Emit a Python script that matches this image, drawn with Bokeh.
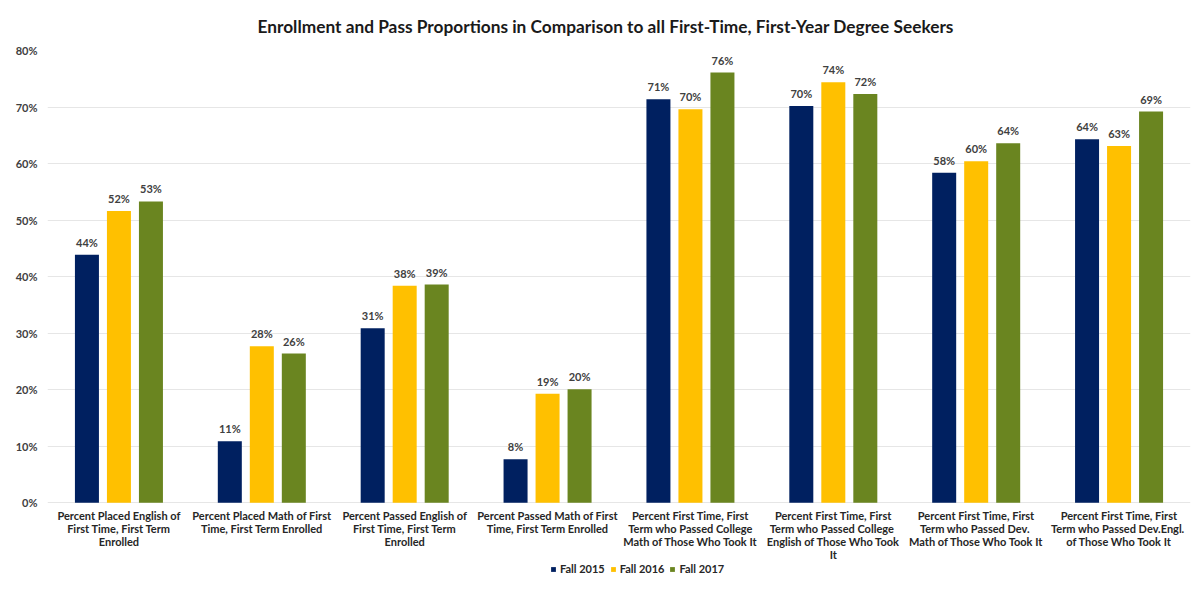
from bokeh.plotting import figure
from bokeh.models import (ColumnDataSource, FactorRange, Range1d, FixedTicker,
                          NumeralTickFormatter, LabelSet, Legend, LegendItem)
from bokeh.core.properties import value
from bokeh.transform import dodge
from bokeh.embed import file_html
from bokeh.resources import INLINE

# Category labels (line breaks as they wrap under each group)
categories = [
    "Percent Placed English of\nFirst Time, First Term\nEnrolled",
    "Percent Placed Math of First\nTime, First Term Enrolled",
    "Percent Passed English of\nFirst Time, First Term\nEnrolled",
    "Percent Passed Math of First\nTime, First Term Enrolled",
    "Percent First Time, First\nTerm who Passed College\nMath of Those Who Took It",
    "Percent First Time, First\nTerm  who Passed College\nEnglish of Those Who Took\nIt",
    "Percent First Time, First\nTerm  who Passed Dev.\nMath of Those Who Took It",
    "Percent First Time, First\nTerm  who Passed Dev.Engl.\nof Those Who Took It",
]

series_names = ["Fall 2015", "Fall 2016", "Fall 2017"]
fall_2015 = [0.439, 0.109, 0.309, 0.077, 0.714, 0.702, 0.584, 0.643]
fall_2016 = [0.516, 0.277, 0.384, 0.193, 0.696, 0.744, 0.604, 0.631]
fall_2017 = [0.533, 0.264, 0.386, 0.201, 0.761, 0.723, 0.636, 0.692]

y_ticks = [0.0, 0.1, 0.2, 0.3, 0.4, 0.5, 0.6, 0.7, 0.8]

colors = ["#002060", "#FFC000", "#6A8520"]
FONT = "Lato"
TEXT_COLOR = "#262626"
LINE_STEP = 13  # px between wrapped category label lines

data = dict(cat=categories, f2015=fall_2015, f2016=fall_2016, f2017=fall_2017)
for key, vals in (("f2015", fall_2015), ("f2016", fall_2016), ("f2017", fall_2017)):
    data[key + "_lbl"] = [f"{round(v * 100)}%" for v in vals]
source = ColumnDataSource(data)

# One row per wrapped line of each category label
cat_rows = dict(cat=[], line=[], yoff=[], y=[])
for c in categories:
    for i, ln in enumerate(c.split("\n")):
        cat_rows["cat"].append(c)
        cat_rows["line"].append(ln)
        cat_rows["yoff"].append(-(6 + i * LINE_STEP))
        cat_rows["y"].append(0.0)
cat_source = ColumnDataSource(cat_rows)

# The frame runs below 0% so the category captions sit under the bars
p = figure(
    x_range=FactorRange(*categories),
    y_range=Range1d(-0.155, 0.8),
    width=1199, height=594,
    output_backend="svg", toolbar_location=None,
    min_border_left=47, min_border_right=9,
    min_border_top=49, min_border_bottom=4,
    title="Enrollment and Pass Proportions in Comparison to all First-Time, First-Year Degree Seekers",
)

p.title.align = "left"
p.title.offset = 210
p.title.text_font = FONT
p.title.text_font_size = "17.3px"
p.title.text_font_style = "bold"
p.title.text_color = "#1a1a1a"
p.title.text_line_height = 1.0
p.title.standoff = 27

p.outline_line_color = None
p.background_fill_color = "white"
p.border_fill_color = "white"

offsets = [-0.224, 0.0, 0.224]
keys = ["f2015", "f2016", "f2017"]
bar_w = 0.168
renderers = []
for key, off, col in zip(keys, offsets, colors):
    r = p.vbar(x=dodge("cat", off, range=p.x_range), top=key, width=bar_w,
               source=source, fill_color=col, line_color=None)
    renderers.append(r)
    labels = LabelSet(x=dodge("cat", off, range=p.x_range), y=key, text=key + "_lbl",
                      source=source, text_align="center", text_baseline="bottom",
                      y_offset=6, text_font=value(FONT), text_font_size=value("11px"),
                      text_font_style="bold", text_color="#404040")
    p.add_layout(labels)

# Category captions
cat_labels = LabelSet(x="cat", y="y", text="line", y_offset="yoff", source=cat_source,
                      text_align="center", text_baseline="top",
                      text_font=value(FONT), text_font_size=value("11px"),
                      text_font_style="bold", text_color=TEXT_COLOR)
p.add_layout(cat_labels)

# Value axis
p.yaxis.ticker = FixedTicker(ticks=y_ticks)
p.yaxis.formatter = NumeralTickFormatter(format="0%")
p.yaxis.axis_line_color = None
p.yaxis.major_tick_line_color = None
p.yaxis.minor_tick_line_color = None
p.yaxis.major_label_text_font = FONT
p.yaxis.major_label_text_font_size = "11px"
p.yaxis.major_label_text_font_style = "bold"
p.yaxis.major_label_text_color = "#404040"
p.yaxis.major_label_standoff = 4

p.xaxis.visible = False

p.xgrid.grid_line_color = None
p.ygrid.grid_line_color = "#e6e6e6"
p.ygrid.grid_line_width = 1

legend = Legend(
    items=[LegendItem(label=n, renderers=[r]) for n, r in zip(series_names, renderers)],
    orientation="horizontal",
    location=(503, 15),
    glyph_width=6, glyph_height=6,
    label_standoff=4, spacing=5, padding=0, margin=0,
    label_height=12,
    label_text_font=FONT, label_text_font_size="11px",
    label_text_font_style="bold", label_text_color=TEXT_COLOR,
    border_line_color=None, background_fill_alpha=0,
)
p.add_layout(legend, "center")

open("out.html", "w").write(file_html(p, INLINE))
